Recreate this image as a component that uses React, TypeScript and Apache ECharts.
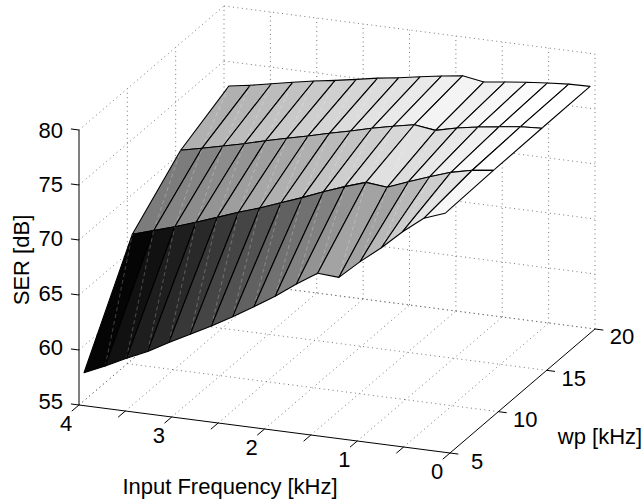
import React, { useEffect, useRef } from "react";
import * as echarts from "echarts";

// Surface samples
const freqKHz = [3.946, 3.717, 3.488, 3.259, 3.03, 2.801, 2.572, 2.343, 2.114, 1.885, 1.656, 1.427, 1.198, 0.969, 0.74, 0.511, 0.282, 0.053];
const wpKHz = [5, 10, 15, 20];
const serWp5 = [58.0, 58.85, 59.8, 60.68, 61.75, 62.73, 63.74, 64.84, 65.99, 67.2, 68.55, 69.78, 69.66, 71.34, 72.85, 74.56, 76.03, 76.73];
const serWp10 = [66.82, 67.4, 68.01, 68.66, 69.36, 70.07, 70.71, 71.44, 72.15, 72.94, 73.65, 74.29, 74.09, 74.85, 75.55, 76.2, 76.64, 76.88];
const serWp15 = [70.7, 71.13, 71.59, 72.05, 72.57, 73.04, 73.5, 73.99, 74.45, 74.95, 75.38, 75.77, 75.51, 75.97, 76.31, 76.59, 76.84, 76.95];
const serWp20 = [72.79, 73.1, 73.49, 73.87, 74.24, 74.55, 74.89, 75.25, 75.54, 75.87, 76.19, 76.47, 76.15, 76.4, 76.62, 76.81, 76.95, 77.0];
const serRows = [serWp5, serWp10, serWp15, serWp20];

// Axis ticks
const freqTicks = [4, 3.5, 3, 2.5, 2, 1.5, 1, 0.5, 0];
const freqLabels = ["4", "3", "2", "1", "0"];
const wpTicks = [5, 10, 15, 20];
const serTicks = [55, 60, 65, 70, 75, 80];

// Orthographic view of the 3D box onto the hidden 2D value axes
const project = (f: number, w: number, z: number): number[] => [
  79 + (4 - f) * 92.75 + (w - 5) * 9.667,
  405 + (4 - f) * 12 - (w - 5) * 8.267 - (z - 55) * 11,
];

const FONT = '22px "Liberation Sans", Arial, sans-serif';
const serAll = serRows.flat();
const serMin = Math.min(...serAll);
const serMax = Math.max(...serAll);
const grayOf = (z: number): string => {
  const g = Math.round(255 * Math.max(0, Math.min(1, (z + 0.4 - serMin) / (serMax - serMin))));
  return `rgb(${g},${g},${g})`;
};

type P3 = number[];
const dotted: P3[][] = [];
freqTicks.forEach((f) => {
  if (f !== 4 && f !== 0) dotted.push([[f, 5, 55], [f, 20, 55]]);
  dotted.push([[f, 20, 55], [f, 20, 80]]);
});
dotted.push([[4, 5, 55], [4, 20, 55]]);
dotted.push([[0, 20, 55], [4, 20, 55]]);
wpTicks.forEach((w) => {
  if (w === 10 || w === 15) {
    dotted.push([[4, w, 55], [0, w, 55]]);
    dotted.push([[4, w, 55], [4, w, 80]]);
  }
});
serTicks.forEach((z) => {
  dotted.push([[4, 5, z], [4, 20, z]]);
  dotted.push([[4, 20, z], [0, 20, z]]);
});

const solid: P3[][] = [
  [[4, 5, 55], [0, 5, 55]],
  [[0, 5, 55], [0, 20, 55]],
  [[4, 5, 55], [4, 5, 80]],
];
freqTicks.forEach((f) => solid.push([[f, 5, 55], [f, 4.25, 55]]));
wpTicks.forEach((w) => solid.push([[0, w, 55], [-0.09, w, 55]]));
serTicks.forEach((z) => solid.push([[4, 5, z], [4.087, 5, z + 0.0]]));

const quads: number[][] = [];
for (let j = wpKHz.length - 2; j >= 0; j--) {
  for (let i = 0; i < freqKHz.length - 1; i++) quads.push([i, j]);
}

type Label = { text: string; x: number; y: number; align?: string; rotation?: number };
const labels: Label[] = [
  ...freqLabels.map((t) => {
    const p = project(Number(t), 5, 55);
    return { text: t, x: p[0] - 13, y: p[1] + 18 + 0 };
  }),
  ...wpTicks.map((w) => {
    const p = project(0, w, 55);
    const s = String(w);
    return { text: s, x: p[0] + 27, y: p[1] + 8 };
  }),
  ...serTicks.map((z) => {
    const p = project(4, 5, z);
    return { text: String(z), x: p[0] - 16, y: p[1] - (80 - z) * 0.13, align: "right" };
  }),
  { text: "SER [dB]", x: 21, y: 260, rotation: Math.PI / 2 },
  { text: "Input Frequency [kHz]", x: 230, y: 486 },
  { text: "wp [kHz]", x: 600, y: 436 },
];

const lineItem = (api: any, seg: P3[], style: any) => {
  const a = api.coord(project(seg[0][0], seg[0][1], seg[0][2]));
  const b = api.coord(project(seg[1][0], seg[1][1], seg[1][2]));
  return { type: "line", shape: { x1: a[0], y1: a[1], x2: b[0], y2: b[1] }, style };
};

export default function App() {
  const ref = useRef<HTMLDivElement>(null);
  useEffect(() => {
    document.body.style.margin = "0";
    const chart = echarts.init(ref.current!, undefined, { renderer: "svg" });
    const idx = (n: number) => Array.from({ length: n }, (_, k) => [k, k]);
    chart.setOption({
      animation: false,
      backgroundColor: "#fff",
      grid: { left: 0, right: 0, top: 0, bottom: 0 },
      xAxis: { type: "value", min: 0, max: 643, show: false },
      yAxis: { type: "value", min: 0, max: 499, inverse: true, show: false },
      series: [
        {
          type: "custom",
          name: "grid",
          silent: true,
          data: idx(dotted.length),
          renderItem: (p: any, api: any) =>
            lineItem(api, dotted[p.dataIndex], { stroke: "#666", lineWidth: 0.9, lineDash: [1, 3.5], fill: null }),
        },
        {
          type: "custom",
          name: "surface",
          silent: true,
          data: idx(quads.length),
          renderItem: (p: any, api: any) => {
            const [i, j] = quads[p.dataIndex];
            const at = (ci: number, rj: number) =>
              api.coord(project(freqKHz[ci], wpKHz[rj], serRows[rj][ci]));
            const a = at(i, j);
            const b = at(i + 1, j);
            const c = at(i + 1, j + 1);
            const d = at(i, j + 1);
            return {
              type: "group",
              children: [
                {
                  type: "polygon",
                  shape: { points: [a, b, c, d] },
                  style: { fill: grayOf(serRows[j][i]), stroke: "#000", lineWidth: 1.1, lineJoin: "round" },
                },
                {
                  type: "line",
                  shape: { x1: b[0], y1: b[1], x2: d[0], y2: d[1] },
                  style: { stroke: "rgba(255,255,255,0.28)", lineWidth: 0.9, lineDash: [4, 3] },
                },
              ],
            };
          },
        },
        {
          type: "custom",
          name: "axes",
          silent: true,
          data: idx(solid.length),
          renderItem: (p: any, api: any) =>
            lineItem(api, solid[p.dataIndex], { stroke: "#000", lineWidth: 1 }),
        },
        {
          type: "custom",
          name: "labels",
          silent: true,
          data: idx(labels.length),
          renderItem: (p: any, api: any) => {
            const l = labels[p.dataIndex];
            const c = api.coord([l.x, l.y]);
            return {
              type: "text",
              x: c[0],
              y: c[1],
              rotation: l.rotation || 0,
              style: {
                text: l.text,
                x: 0,
                y: 0,
                font: FONT,
                fill: "#000",
                align: l.align || "center",
                verticalAlign: "middle",
              },
            };
          },
        },
      ],
    });
    return () => chart.dispose();
  }, []);
  return <div ref={ref} style={{ width: 643, height: 499 }} />;
}
